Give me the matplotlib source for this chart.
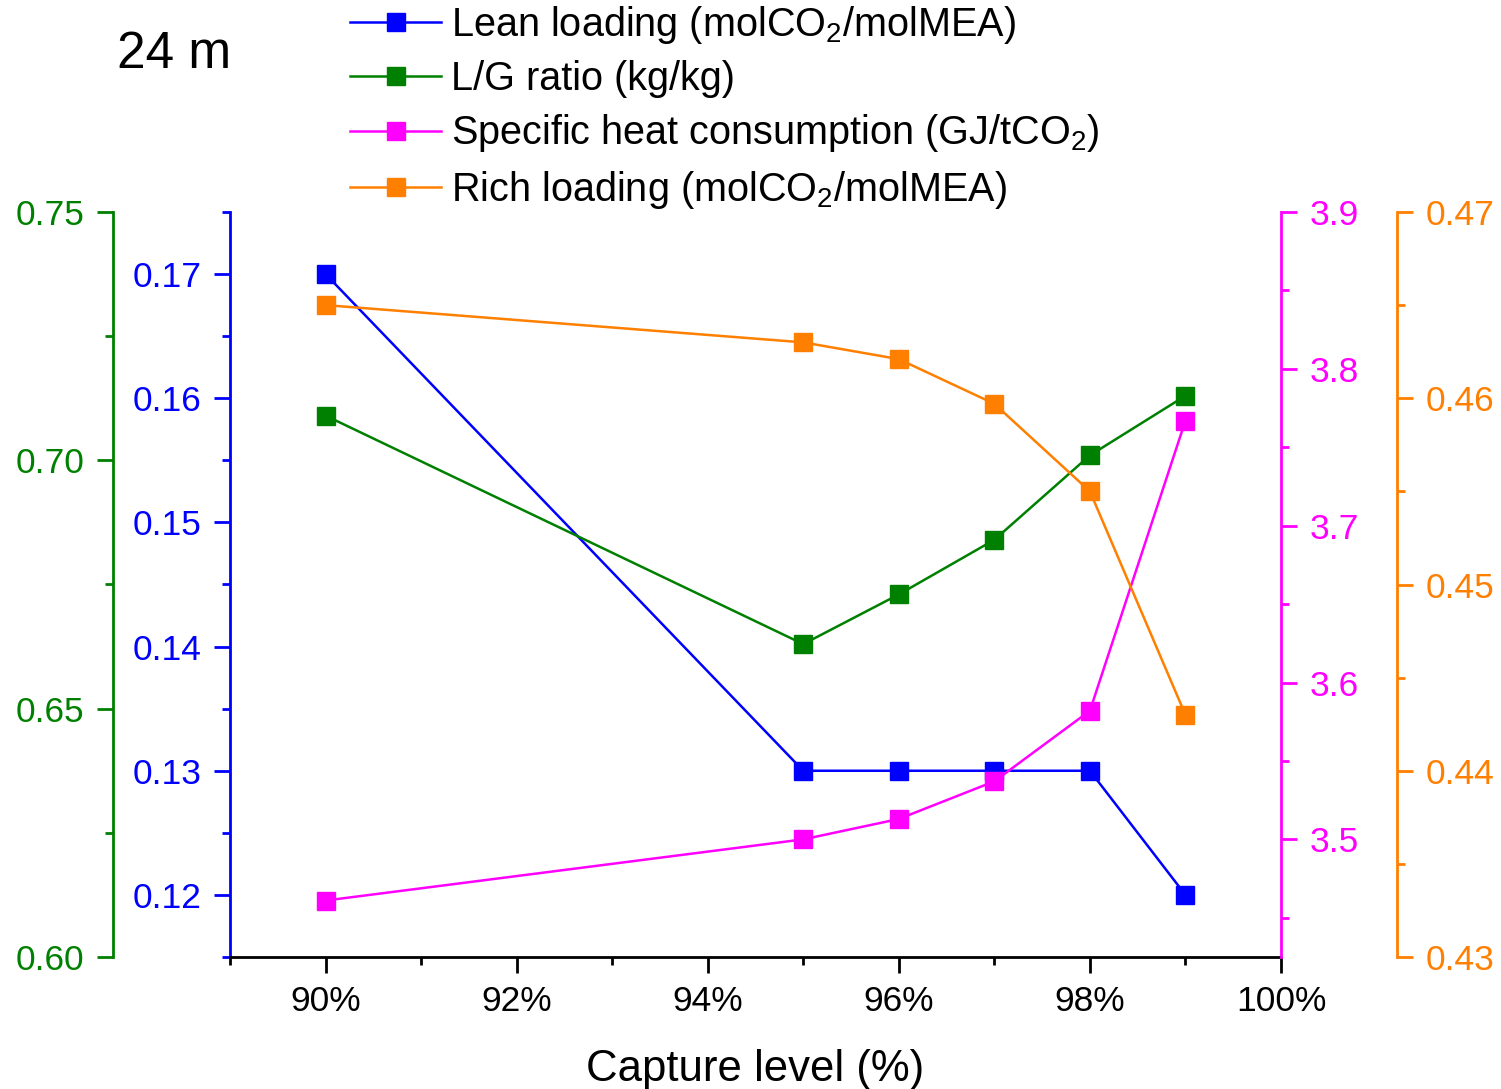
import matplotlib
matplotlib.use("Agg")
import matplotlib.pyplot as plt
from matplotlib.ticker import MultipleLocator, FuncFormatter

plt.rcParams['font.family'] = ['Liberation Sans', 'DejaVu Sans']
plt.rcParams['mathtext.fontset'] = 'custom'
plt.rcParams['mathtext.rm'] = 'Liberation Sans'
plt.rcParams['mathtext.it'] = 'Liberation Sans:italic'

capture = [90, 95, 96, 97, 98, 99]
lean_loading = [0.170, 0.130, 0.130, 0.130, 0.130, 0.120]
lg_ratio = [0.709, 0.663, 0.673, 0.684, 0.701, 0.713]
heat = [3.461, 3.500, 3.513, 3.537, 3.582, 3.767]
rich_loading = [0.4650, 0.4630, 0.4621, 0.4597, 0.4550, 0.4430]

labels = [r'Lean loading (molCO$_\mathrm{2}$/molMEA)',
          'L/G ratio (kg/kg)',
          r'Specific heat consumption (GJ/tCO$_\mathrm{2}$)',
          r'Rich loading (molCO$_\mathrm{2}$/molMEA)']

c_blue = '#0000FF'
c_green = '#008000'
c_mag = '#FF00FF'
c_orange = '#FF7F00'

tick_fs = 25.5
lw_axis = 2.0
px = 72 / 100  # pixels -> points

fig = plt.figure(figsize=(15.01, 10.89), dpi=100)
ax = fig.add_axes([230/1501, 1 - 957/1089, 1051/1501, 745/1089])
ax_g = ax.twinx()
ax_m = ax.twinx()
ax_o = ax.twinx()

def style(a, side, color, outward=0):
    for s in ['top', 'right', 'left', 'bottom']:
        a.spines[s].set_visible(False)
    a.spines[side].set_visible(True)
    a.spines[side].set_color(color)
    a.spines[side].set_linewidth(lw_axis)
    a.spines[side].set_position(('outward', outward))
    a.yaxis.set_ticks_position(side)
    a.yaxis.set_label_position(side)
    a.tick_params(axis='y', which='major', direction='out', length=11.5, width=lw_axis,
                  colors=color, labelsize=tick_fs, pad=9)
    a.tick_params(axis='y', which='minor', direction='out', length=5.8, width=lw_axis,
                  colors=color)

style(ax, 'left', c_blue)
ax.spines['bottom'].set_visible(True)
ax.spines['bottom'].set_linewidth(lw_axis)
style(ax_g, 'left', c_green, outward=117 * px)
style(ax_m, 'right', c_mag)
style(ax_o, 'right', c_orange, outward=116 * px)

mk = dict(marker='s', markersize=13, linewidth=1.8)
h1, = ax.plot(capture, lean_loading, color=c_blue, label=labels[0], **mk)
h2, = ax_g.plot(capture, lg_ratio, color=c_green, label=labels[1], **mk)
h3, = ax_m.plot(capture, heat, color=c_mag, label=labels[2], **mk)
h4, = ax_o.plot(capture, rich_loading, color=c_orange, label=labels[3], **mk)

ax.set_xlim(89, 100)
ax.xaxis.set_major_locator(MultipleLocator(2))
ax.xaxis.set_minor_locator(MultipleLocator(1))
ax.xaxis.set_major_formatter(FuncFormatter(lambda v, p: '%d%%' % round(v)))
ax.tick_params(axis='x', which='major', direction='out', length=11.5, width=lw_axis,
               labelsize=tick_fs, pad=9)
ax.tick_params(axis='x', which='minor', direction='out', length=5.8, width=lw_axis)
ax.set_xlabel('Capture level (%)', fontsize=31.5, labelpad=22)

ax.set_ylim(0.115, 0.175)
ax.yaxis.set_major_locator(MultipleLocator(0.01))
ax.yaxis.set_minor_locator(MultipleLocator(0.005))
ax.yaxis.set_major_formatter(FuncFormatter(lambda v, p: '%.2f' % v))

ax_g.set_ylim(0.60, 0.75)
ax_g.yaxis.set_major_locator(MultipleLocator(0.05))
ax_g.yaxis.set_minor_locator(MultipleLocator(0.025))
ax_g.yaxis.set_major_formatter(FuncFormatter(lambda v, p: '%.2f' % v))

ax_m.set_ylim(3.425, 3.9)
ax_m.set_yticks([3.5, 3.6, 3.7, 3.8, 3.9])
ax_m.set_yticks([3.45, 3.55, 3.65, 3.75, 3.85], minor=True)
ax_m.yaxis.set_major_formatter(FuncFormatter(lambda v, p: '%.1f' % v))

ax_o.set_ylim(0.43, 0.47)
ax_o.yaxis.set_major_locator(MultipleLocator(0.01))
ax_o.yaxis.set_minor_locator(MultipleLocator(0.005))
ax_o.yaxis.set_major_formatter(FuncFormatter(lambda v, p: '%.2f' % v))

fig.legend(handles=[h1, h2, h3, h4], loc='upper left',
           bbox_to_anchor=(350/1501, 1 - 4/1089), frameon=False, fontsize=28.5,
           borderpad=0, borderaxespad=0, handlelength=2.3, handletextpad=0.26,
           labelspacing=0.36)

fig.text(117/1501, 1 - 68/1089, '24 m', fontsize=37)

plt.savefig('out.png', dpi=100)
